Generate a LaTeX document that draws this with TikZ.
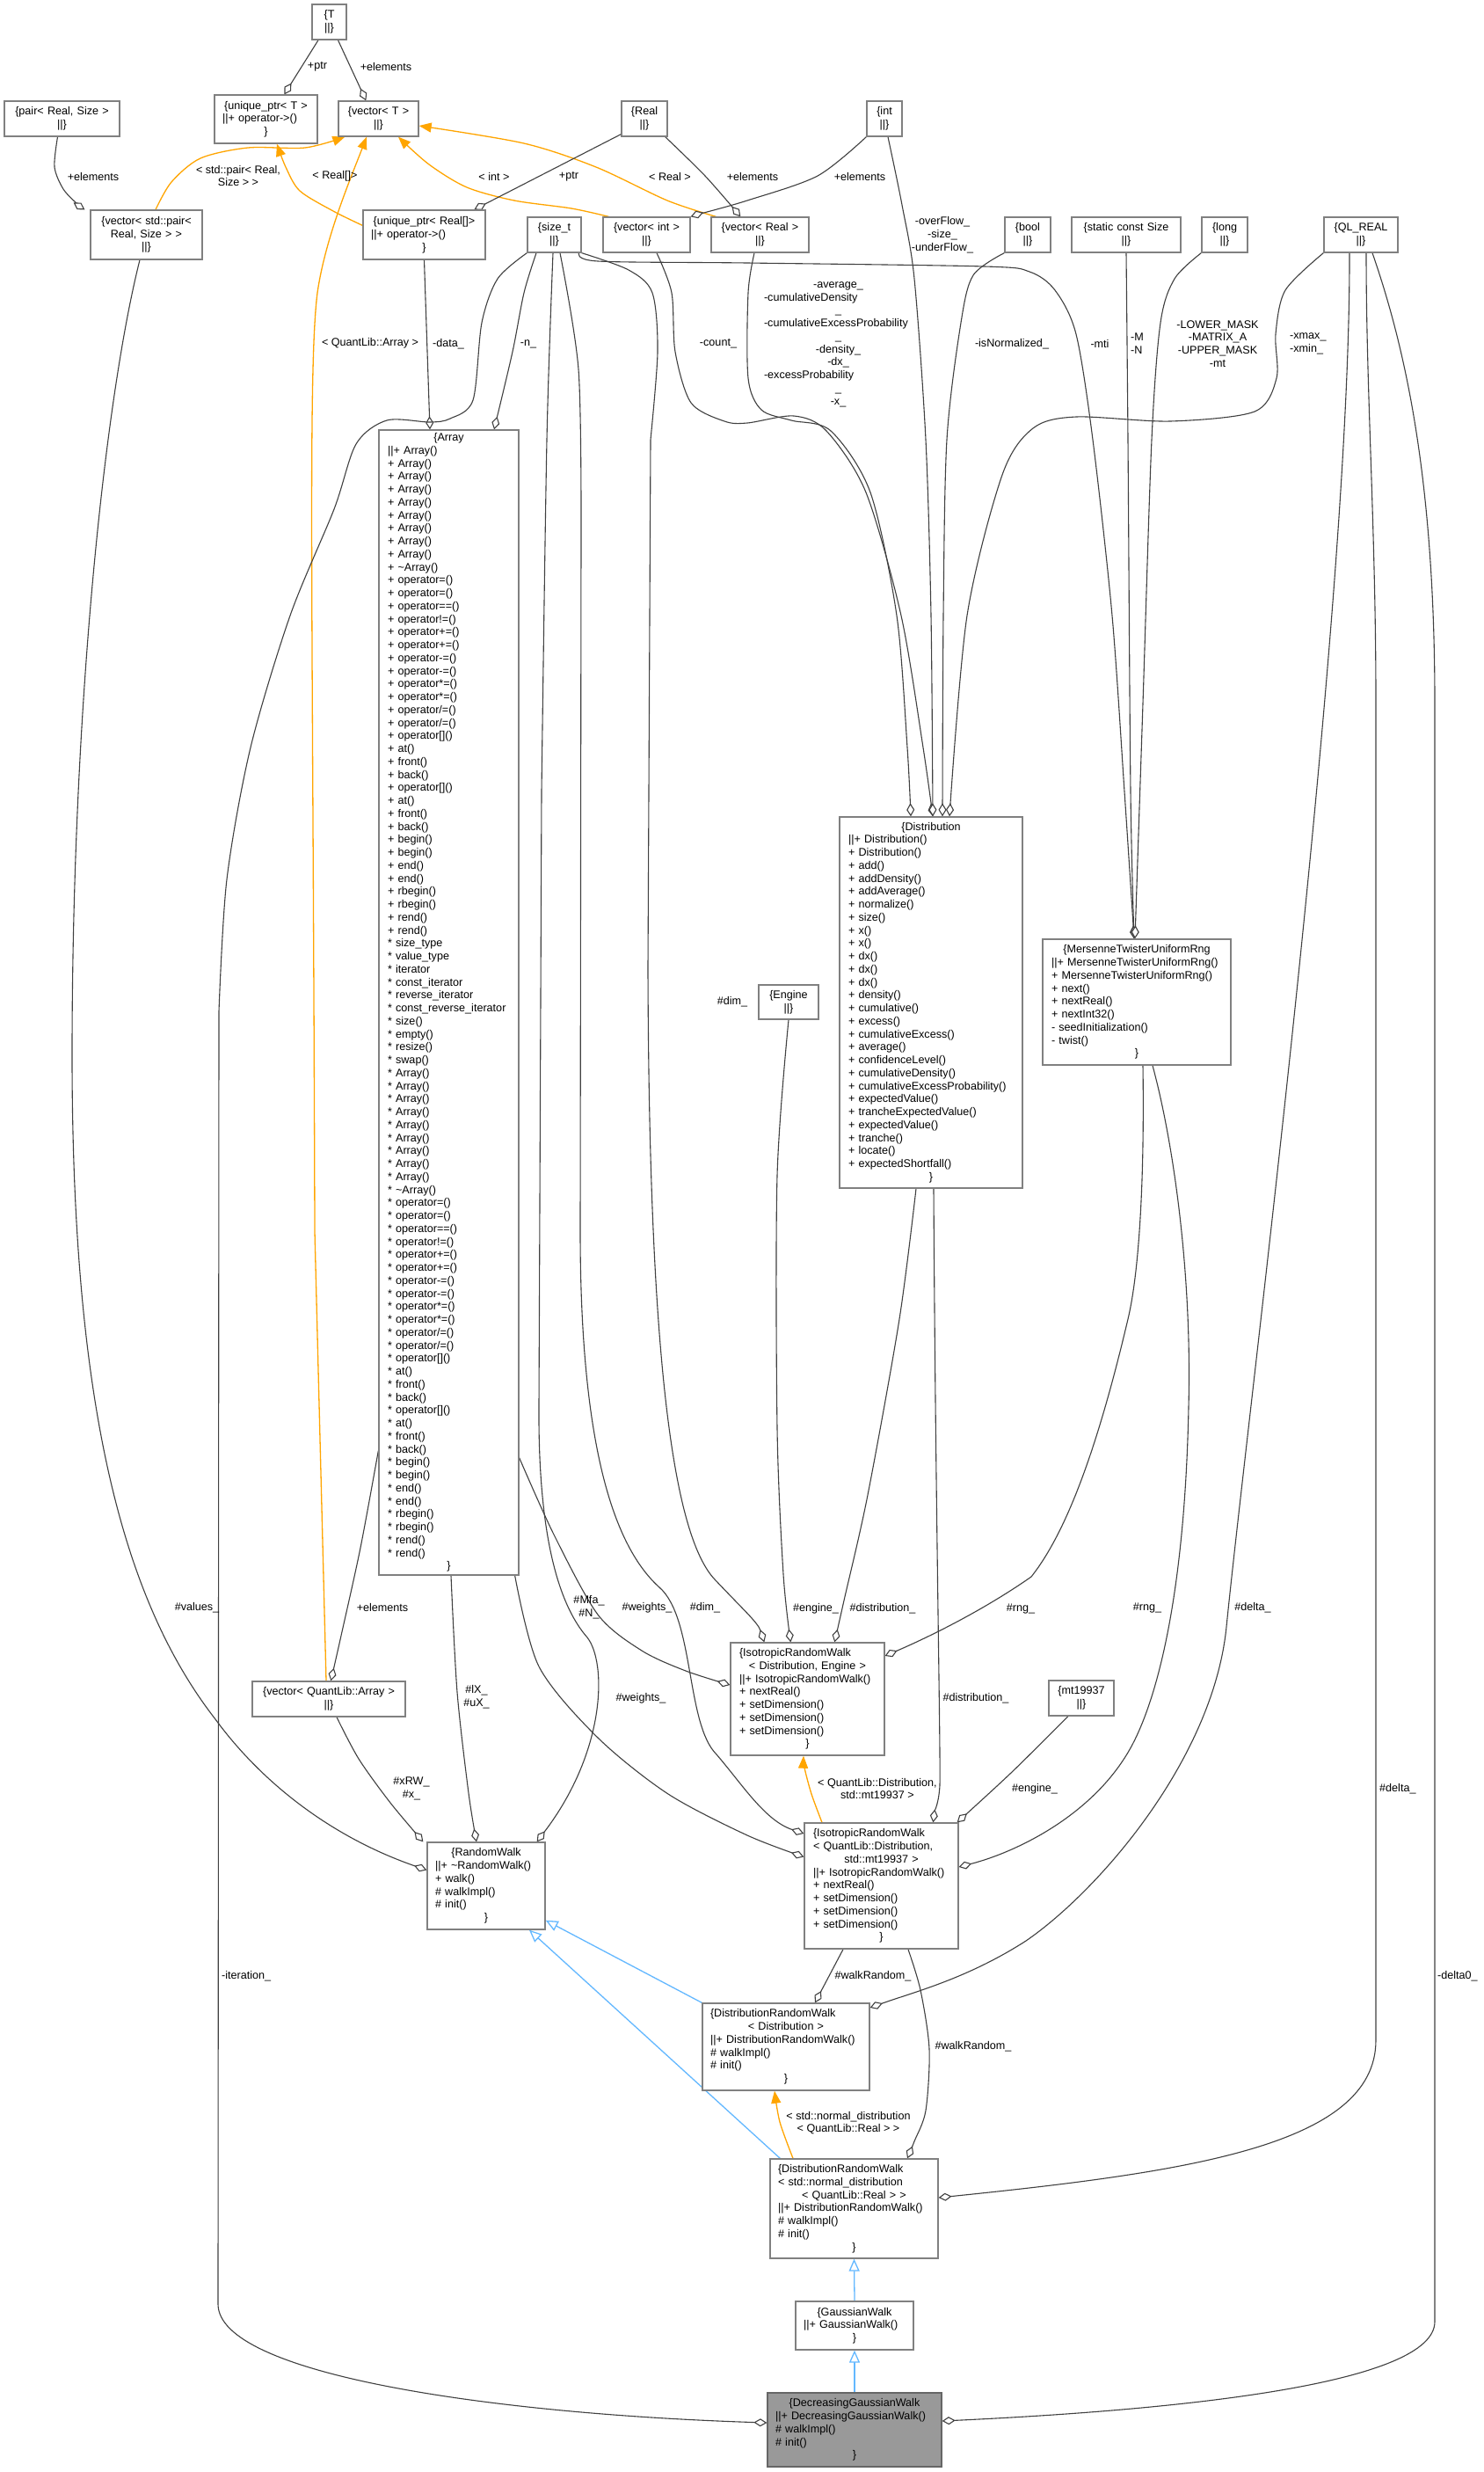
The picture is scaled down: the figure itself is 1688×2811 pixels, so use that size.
\documentclass[tikz,border=0pt]{standalone}
\usepackage{fontspec}
\setmainfont{Liberation Sans}
\usetikzlibrary{arrows.meta,backgrounds}
\definecolor{edgegray}{HTML}{404040}
\definecolor{boxgray}{HTML}{808080}
\definecolor{tmplorange}{HTML}{FFA500}
\definecolor{inhblue}{HTML}{63B8FF}
\definecolor{selgray}{HTML}{999999}
\newcommand\dfont{\fontsize{12.6}{14.75}\selectfont}
% one left-aligned / centred text line inside a class box
\newcommand\Ll[1]{\noindent\hbox to\hsize{#1\hss}\par}
\newcommand\Lc[1]{\noindent\hbox to\hsize{\hss#1\hss}\par}
\begin{document}
\begin{tikzpicture}[x=1pt,y=-1pt,
  cls/.style={draw=boxgray, line width=1.3pt, fill=white, inner sep=0pt, font=\dfont},
  lab/.style={inner sep=0pt, font=\dfont, align=center},
  labl/.style={inner sep=0pt, font=\dfont, align=left, anchor=west},
  comp/.style={draw=edgegray, line width=1.1pt, -{Diamond[fill=white,length=15pt,width=9pt,line width=1.1pt]}},
  tmpl/.style={draw=tmplorange, line width=1.3pt, -{Triangle[length=14pt,width=11pt,fill=tmplorange]}},
  inh/.style={draw=inhblue, line width=1.3pt, -{Triangle[open,fill=white,length=14pt,width=12pt]}}]
\useasboundingbox (0,0) rectangle (1688,2811);

% ---------- classes ----------
\node[cls, minimum width=39pt, minimum height=40pt, text width=37pt] (T) at (374.5,25) {%
\Lc{\{T}\Lc{||\}}};
\node[cls, minimum width=117pt, minimum height=55pt, text width=99pt] (uptrT) at (302.5,135.5) {%
\Lc{\{unique\_ptr< T >}\Ll{||+ operator->()}\Lc{\}}};
\node[cls, minimum width=91pt, minimum height=40pt, text width=85pt] (vecT) at (430.5,135) {%
\Lc{\{vector< T >}\Lc{||\}}};
\node[cls, minimum width=131pt, minimum height=40pt, text width=125pt] (pairRS) at (70.5,135) {%
\Lc{\{pair< Real, Size >}\Lc{||\}}};
\node[cls, minimum width=52pt, minimum height=40pt, text width=48pt] (Real) at (733,135) {%
\Lc{\{Real}\Lc{||\}}};
\node[cls, minimum width=40pt, minimum height=40pt, text width=36pt] (int) at (1006,135) {%
\Lc{\{int}\Lc{||\}}};
\node[cls, minimum width=127pt, minimum height=56pt, text width=121pt] (vecPair) at (166.5,267) {%
\Lc{\{vector< std::pair<}\Lc{Real, Size > >}\Lc{||\}}};
\node[cls, minimum width=139pt, minimum height=56pt, text width=121pt] (uptrR) at (482.5,267) {%
\Lc{\{unique\_ptr< Real[]>}\Ll{||+ operator->()}\Lc{\}}};
\node[cls, minimum width=61pt, minimum height=40pt, text width=57pt] (sizet) at (630.5,267) {%
\Lc{\{size\_t}\Lc{||\}}};
\node[cls, minimum width=99pt, minimum height=40pt, text width=93pt] (vecInt) at (735.5,267) {%
\Lc{\{vector< int >}\Lc{||\}}};
\node[cls, minimum width=111pt, minimum height=40pt, text width=105pt] (vecReal) at (864.5,267) {%
\Lc{\{vector< Real >}\Lc{||\}}};
\node[cls, minimum width=52pt, minimum height=40pt, text width=48pt] (bool) at (1169,267) {%
\Lc{\{bool}\Lc{||\}}};
\node[cls, minimum width=124pt, minimum height=40pt, text width=118pt] (scSize) at (1281,267) {%
\Lc{\{static const Size}\Lc{||\}}};
\node[cls, minimum width=52pt, minimum height=40pt, text width=48pt] (long) at (1393,267) {%
\Lc{\{long}\Lc{||\}}};
\node[cls, minimum width=84pt, minimum height=40pt, text width=78pt] (qlreal) at (1548,267) {%
\Lc{\{QL\_REAL}\Lc{||\}}};

\node[cls, minimum width=159pt, minimum height=1302pt, text width=139pt] (array) at (510.5,1140) {%
\Lc{\{Array}
\Ll{||+ Array()}
\Ll{+ Array()}\Ll{+ Array()}\Ll{+ Array()}\Ll{+ Array()}
\Ll{+ Array()}\Ll{+ Array()}\Ll{+ Array()}\Ll{+ Array()}
\Ll{+ \textasciitilde Array()}
\Ll{+ operator=()}\Ll{+ operator=()}\Ll{+ operator==()}\Ll{+ operator!=()}
\Ll{+ operator+=()}\Ll{+ operator+=()}\Ll{+ operator-=()}\Ll{+ operator-=()}
\Ll{+ operator*=()}\Ll{+ operator*=()}\Ll{+ operator/=()}\Ll{+ operator/=()}
\Ll{+ operator[]()}\Ll{+ at()}\Ll{+ front()}\Ll{+ back()}
\Ll{+ operator[]()}\Ll{+ at()}\Ll{+ front()}\Ll{+ back()}
\Ll{+ begin()}\Ll{+ begin()}\Ll{+ end()}\Ll{+ end()}
\Ll{+ rbegin()}\Ll{+ rbegin()}\Ll{+ rend()}\Ll{+ rend()}
\Ll{* size\_type}\Ll{* value\_type}\Ll{* iterator}\Ll{* const\_iterator}
\Ll{* reverse\_iterator}\Ll{* const\_reverse\_iterator}
\Ll{* size()}\Ll{* empty()}\Ll{* resize()}\Ll{* swap()}
\Ll{* Array()}\Ll{* Array()}\Ll{* Array()}\Ll{* Array()}\Ll{* Array()}
\Ll{* Array()}\Ll{* Array()}\Ll{* Array()}\Ll{* Array()}
\Ll{* \textasciitilde Array()}
\Ll{* operator=()}\Ll{* operator=()}\Ll{* operator==()}\Ll{* operator!=()}
\Ll{* operator+=()}\Ll{* operator+=()}\Ll{* operator-=()}\Ll{* operator-=()}
\Ll{* operator*=()}\Ll{* operator*=()}\Ll{* operator/=()}\Ll{* operator/=()}
\Ll{* operator[]()}\Ll{* at()}\Ll{* front()}\Ll{* back()}
\Ll{* operator[]()}\Ll{* at()}\Ll{* front()}\Ll{* back()}
\Ll{* begin()}\Ll{* begin()}\Ll{* end()}\Ll{* end()}
\Ll{* rbegin()}\Ll{* rbegin()}\Ll{* rend()}\Ll{* rend()}
\Lc{\}}};

\node[cls, minimum width=208pt, minimum height=422pt, text width=188pt] (distr) at (1059,1140) {%
\Lc{\{Distribution}
\Ll{||+ Distribution()}\Ll{+ Distribution()}\Ll{+ add()}\Ll{+ addDensity()}
\Ll{+ addAverage()}\Ll{+ normalize()}\Ll{+ size()}\Ll{+ x()}\Ll{+ x()}
\Ll{+ dx()}\Ll{+ dx()}\Ll{+ dx()}\Ll{+ density()}\Ll{+ cumulative()}
\Ll{+ excess()}\Ll{+ cumulativeExcess()}\Ll{+ average()}\Ll{+ confidenceLevel()}
\Ll{+ cumulativeDensity()}\Ll{+ cumulativeExcessProbability()}\Ll{+ expectedValue()}
\Ll{+ trancheExpectedValue()}\Ll{+ expectedValue()}\Ll{+ tranche()}\Ll{+ locate()}
\Ll{+ expectedShortfall()}
\Lc{\}}};

\node[cls, minimum width=214pt, minimum height=143pt, text width=194pt] (mersenne) at (1293,1139.5) {%
\Lc{\{MersenneTwisterUniformRng}
\Ll{||+ MersenneTwisterUniformRng()}\Ll{+ MersenneTwisterUniformRng()}
\Ll{+ next()}\Ll{+ nextReal()}\Ll{+ nextInt32()}
\Ll{- seedInitialization()}\Ll{- twist()}
\Lc{\}}};

\node[cls, minimum width=68pt, minimum height=39pt, text width=62pt] (engine) at (897,1139.5) {%
\Lc{\{Engine}\Lc{||\}}};

\node[cls, minimum width=175pt, minimum height=128pt, text width=155pt] (isoDE) at (918.5,1932) {%
\Ll{\{IsotropicRandomWalk}\Lc{< Distribution, Engine >}
\Ll{||+ IsotropicRandomWalk()}\Ll{+ nextReal()}
\Ll{+ setDimension()}\Ll{+ setDimension()}\Ll{+ setDimension()}
\Lc{\}}};

\node[cls, minimum width=175pt, minimum height=143pt, text width=155pt] (isoQL) at (1002.5,2144.5) {%
\Ll{\{IsotropicRandomWalk}\Ll{< QuantLib::Distribution,}\Lc{std::mt19937 >}
\Ll{||+ IsotropicRandomWalk()}\Ll{+ nextReal()}
\Ll{+ setDimension()}\Ll{+ setDimension()}\Ll{+ setDimension()}
\Lc{\}}};

\node[cls, minimum width=74pt, minimum height=40pt, text width=68pt] (mt) at (1230,1931) {%
\Lc{\{mt19937}\Lc{||\}}};
\node[cls, minimum width=174pt, minimum height=40pt, text width=160pt] (vecArr) at (374,1932) {%
\Lc{\{vector< QuantLib::Array >}\Lc{||\}}};

\node[cls, minimum width=134pt, minimum height=99pt, text width=116pt] (rw) at (553,2144.5) {%
\Lc{\{RandomWalk}\Ll{||+ \textasciitilde RandomWalk()}\Ll{+ walk()}
\Ll{\# walkImpl()}\Ll{\# init()}\Lc{\}}};

\node[cls, minimum width=190pt, minimum height=99pt, text width=172pt] (drwD) at (894,2327.5) {%
\Ll{\{DistributionRandomWalk}\Lc{< Distribution >}
\Ll{||+ DistributionRandomWalk()}\Ll{\# walkImpl()}\Ll{\# init()}\Lc{\}}};

\node[cls, minimum width=191pt, minimum height=113pt, text width=173pt] (drwN) at (971.5,2511.5) {%
\Ll{\{DistributionRandomWalk}\Ll{< std::normal\_distribution}\Lc{< QuantLib::Real > >}
\Ll{||+ DistributionRandomWalk()}\Ll{\# walkImpl()}\Ll{\# init()}\Lc{\}}};

\node[cls, minimum width=134pt, minimum height=55pt, text width=116pt] (gw) at (972,2644.5) {%
\Lc{\{GaussianWalk}\Ll{||+ GaussianWalk()}\Lc{\}}};

\node[cls, fill=selgray, draw=edgegray!80, minimum width=198pt, minimum height=84pt, text width=180pt] (dgw) at (972,2763) {%
\Lc{\{DecreasingGaussianWalk}\Ll{||+ DecreasingGaussianWalk()}
\Ll{\# walkImpl()}\Ll{\# init()}\Lc{\}}};

% ---------- edge labels ----------
\node[lab] (lptrA) at (361,76) {+ptr};
\node[lab] (lelA) at (439,76) {+elements};
\node[lab] (lelB) at (106,201) {+elements};
\node[lab] (lptrB) at (647,201) {+ptr};
\node[lab] (lelC) at (856,201) {+elements};
\node[lab] (lelD) at (978,201) {+elements};
\node[lab] (lpair) at (271,200) {< std::pair< Real,\\Size > >};
\node[lab] (lrealarr) at (381,200) {< Real[]>};
\node[lab] (lint) at (562,201) {< int >};
\node[lab] (lreal) at (762,201) {< Real >};
\node[lab] (lqlarr) at (421,390) {< QuantLib::Array >};
\node[lab] (ldata) at (510,391) {-data\_};
\node[lab] (ln) at (601,391) {-n\_};
\node[lab] (lcount) at (817,391) {-count\_};
\node[inner sep=0pt, font=\dfont, text width=169pt] (lvals) at (953.5,391.5) {%
\Lc{-average\_}\Ll{-cumulativeDensity}\Lc{\_}\Ll{-cumulativeExcessProbability}\Lc{\_}
\Lc{-density\_}\Lc{-dx\_}\Ll{-excessProbability}\Lc{\_}\Lc{-x\_}};
\node[lab] (lflow) at (1072,267) {-overFlow\_\\-size\_\\-underFlow\_};
\node[lab] (lnorm) at (1151,391) {-isNormalized\_};
\node[lab] (lmti) at (1251,391) {-mti};
\node[labl] (lmn) at (1286,391) {-M\\-N};
\node[lab] (lmask) at (1385,391) {-LOWER\_MASK\\-MATRIX\_A\\-UPPER\_MASK\\-mt};
\node[labl] (lxm) at (1467,391) {-xmax\_\\-xmin\_};
\node[lab] (ldimA) at (833,1139) {\#dim\_};
\node[lab] (lvalues) at (224,1828) {\#values\_};
\node[lab] (lelE) at (435,1828) {+elements};
\node[lab] (lmfa) at (670,1828) {\#Mfa\_\\\#N\_};
\node[lab] (lwA) at (736,1828) {\#weights\_};
\node[lab] (ldimB) at (802,1828) {\#dim\_};
\node[lab] (lengA) at (928,1829) {\#engine\_};
\node[lab] (ldistA) at (1004,1829) {\#distribution\_};
\node[lab] (lrngA) at (1161,1829) {\#rng\_};
\node[lab] (lrngB) at (1305,1828) {\#rng\_};
\node[lab] (ldeltaA) at (1425,1828) {\#delta\_};
\node[lab] (llx) at (542,1930) {\#lX\_\\\#uX\_};
\node[lab] (lwB) at (729,1931) {\#weights\_};
\node[lab] (ldistB) at (1110,1931) {\#distribution\_};
\node[lab] (lxrw) at (468,2034) {\#xRW\_\\\#x\_};
\node[lab] (lqld) at (998,2034) {< QuantLib::Distribution,\\std::mt19937 >};
\node[lab] (lengB) at (1177,2034) {\#engine\_};
\node[labl] (ldeltaB) at (1569,2034) {\#delta\_};
\node[labl] (liter) at (252,2247) {-iteration\_};
\node[lab] (lwalkA) at (993,2247) {\#walkRandom\_};
\node[labl] (ldelta0) at (1635,2247) {-delta0\_};
\node[lab] (lwalkB) at (1107,2327) {\#walkRandom\_};
\node[lab] (lnorm2) at (965,2414) {< std::normal\_distribution\\< QuantLib::Real > >};

% ---------- connectors ----------
\begin{scope}[on background layer]
\fill[white] (0,0) rectangle (1688,2811);

% template instantiations
\draw[tmpl] plot[smooth] coordinates {([xshift=10.5pt]vecPair.north) (195,207) (228,180) (282,168) (347,168) ([xshift=8pt]vecT.south west)};
\draw[tmpl] plot[smooth] coordinates {([yshift=-18pt]uptrR.north west) (379,240) (341,217) (325,190) ([xshift=12.5pt]uptrT.south)};
\draw[tmpl] ([xshift=-3pt]vecArr.north) -- (358,1400) .. controls (356,700) and (350,420) .. (361,333) .. controls (370,270) and (400,200) .. ([xshift=-13.5pt]vecT.south);
\draw[tmpl] plot[smooth] coordinates {([xshift=7pt]vecInt.north west) (650,237) (585,228) (531,213) (488,187) ([xshift=22.5pt]vecT.south)};
\draw[tmpl] plot[smooth] coordinates {([xshift=6pt]vecReal.north west) (759,228) (678,190) (596,163) ([yshift=-8pt]vecT.east)};
\draw[tmpl] plot[smooth] coordinates {([xshift=-67.5pt]isoQL.north) (923,2040) (915,2010) ([xshift=-4.5pt]isoDE.south)};
\draw[tmpl] plot[smooth] coordinates {([xshift=-69.5pt]drwN.north) (887,2413) ([xshift=-13pt]drwD.south)};

% inheritance
\draw[inh] (drwD.north west) -- ([yshift=11pt]rw.south east);
\draw[inh] ([xshift=12pt]drwN.north west) -- ([xshift=49pt]rw.south);
\draw[inh] (gw.north) -- (drwN.south);
\draw[inh] (dgw.north) -- (gw.south);

% members of the small templates
\draw[comp] ([xshift=-12.5pt]T.south) -- ([xshift=80pt]uptrT.north west);
\draw[comp] ([xshift=10pt]T.south) -- ([xshift=32pt]vecT.north west);
\draw[comp] plot[smooth] coordinates {([xshift=-5pt]pairRS.south) (62,190) (72,215) (88,232) ([xshift=-6pt]vecPair.north west)};
\draw[comp] ([yshift=3pt]Real.south west) -- ([xshift=127pt]uptrR.north west);
\draw[comp] plot[smooth] coordinates {([xshift=-3pt]Real.south east) (802,200) ([xshift=34pt]vecReal.north west)};
\draw[comp] plot[smooth] coordinates {(int.south west) (930,200) (850,228) (797,243) (vecInt.north east)};

% Array members
\draw[comp] (uptrR.south) -- ([xshift=-21.5pt]array.north);
\draw[comp] plot[smooth] coordinates {([xshift=-20.5pt]sizet.south) (596,333) (583,400) ([xshift=51.5pt]array.north)};

% size_t members elsewhere
\draw[comp] plot[smooth] coordinates {(sizet.south west) (566,317) (548,367) (538,455) (512,476) (489,480) (440,478) (405,505) (380,579) (330,700) (285,850) (258,1000) (249,1150)} -- (248,2620) .. controls (248,2700) and (560,2745) .. ([yshift=8pt]dgw.west);
\draw[comp] plot[smooth] coordinates {([xshift=-1.5pt]sizet.south) (622,500) (616,900)} -- (613,1600) .. controls (612,1760) and (640,1830) .. (668,1862) .. controls (690,1890) and (690,1990) .. ([xshift=-10pt]rw.north east);
\draw[comp] plot[smooth] coordinates {(sizet.south east) (715,307) (742,333) (748,400) (740,500)} -- (737,1100) .. controls (738,1500) and (760,1740) .. (813,1796) .. controls (845,1830) and (862,1845) .. ([xshift=39pt]isoDE.north west);
\draw[comp] plot[smooth] coordinates {([xshift=6.5pt]sizet.south) (658,420) (661,600)} -- (660,1400) .. controls (660,1650) and (700,1760) .. (750,1805) .. controls (790,1840) and (780,1960) .. (815,1995) .. controls (845,2030) and (870,2070) .. ([yshift=59.5pt]isoQL.west);
\draw[comp] plot[smooth] coordinates {([xshift=-3pt]sizet.south east) (680,297) (850,299) (1120,303) (1171,309) (1200,330) (1224,380) (1243,500) (1265,700) (1279,900) ([xshift=-3pt]mersenne.north)};

% Distribution members
\draw[comp] plot[smooth] coordinates {([xshift=11.5pt]vecInt.south) (764,333) (768,400) (786,458) (824,479) (850,481) (903,473) (940,490) (985,560) (1025,700) (1050,850) ([xshift=2pt]distr.north)};
\draw[comp] plot[smooth] coordinates {([xshift=-6.5pt]vecReal.south) (851,333) (851,430) (866,466) (900,478) (945,490) (990,560) (1020,700) (1032,850) ([xshift=-23pt]distr.north)};
\draw[comp] plot[smooth] coordinates {([xshift=4pt]int.south) (1026,233) (1040,317) (1053,500) (1059,700) ([xshift=2pt]distr.north)};
\draw[comp] plot[smooth] coordinates {(bool.south west) (1107,313) (1093,367) (1077,500) (1073,700) ([xshift=13pt]distr.north)};
\draw[comp] plot[smooth] coordinates {(qlreal.south west) (1462,330) (1451,380) (1452,430) (1427,468) (1331,479) (1224,474) (1175,487) (1140,540) (1100,700) ([xshift=21pt]distr.north)};

% Mersenne twister members
\draw[comp] plot[smooth] coordinates {(scSize.south) (1283,500) (1286,900) ([xshift=-3pt]mersenne.north)};
\draw[comp] plot[smooth] coordinates {(long.south west) (1336,317) (1320,367) (1310,500) (1300,800) ([xshift=-2pt]mersenne.north)};

% Array as a member
\draw[comp] plot[smooth] coordinates {([yshift=142pt]array.south west) (410,1760) (388,1860) ([xshift=90pt]vecArr.north west)};
\draw[comp] plot[smooth] coordinates {([xshift=2.5pt]array.south) (520,1924) (533,2039) ([xshift=-11pt]rw.north)};
\draw[comp] plot[smooth] coordinates {([yshift=134pt]array.south east) (630,1745) (680,1836) (730,1877) (780,1900) ([yshift=16pt]isoDE.west)};
\draw[comp] plot[smooth] coordinates {([xshift=-5pt]array.south east) (613,1895) (680,1976) (760,2040) (850,2087) ([yshift=33pt]isoQL.west)};

% isotropic random walk members
\draw[comp] plot[smooth] coordinates {(engine.south) (884,1337) (884,1624) (891,1790) ([xshift=69pt]isoDE.north west)};
\draw[comp] plot[smooth] coordinates {([xshift=-17pt]distr.south) (1023,1500) (987,1700) (960,1820) ([xshift=119pt]isoDE.north west)};
\draw[comp] ([xshift=3pt]distr.south) .. controls (1064,1700) and (1070,1990) .. (1069,2030) .. controls (1068,2050) and (1063,2060) .. ([xshift=147pt]isoQL.north west);
\draw[comp] ([xshift=7pt]mersenne.south) .. controls (1302,1350) and (1295,1450) .. (1283,1500) .. controls (1250,1640) and (1215,1740) .. (1173,1793) .. controls (1120,1830) and (1060,1860) .. ([yshift=49pt]isoDE.east);
\draw[comp] ([xshift=18pt]mersenne.south) .. controls (1335,1300) and (1356,1450) .. (1352,1600) .. controls (1348,1800) and (1320,1920) .. (1290,1980) .. controls (1250,2060) and (1160,2105) .. ([yshift=21.5pt]isoQL.east);
\draw[comp] plot[smooth] coordinates {([xshift=-15pt]mt.south) (1150,2016) ([xshift=-2pt]isoQL.north east)};

% QL_REAL members of the walks
\draw[comp] ([xshift=-13pt]qlreal.south) .. controls (1536,700) and (1420,1600) .. (1395,1850) .. controls (1380,2000) and (1250,2150) .. (1167,2207) .. controls (1100,2250) and (1040,2265) .. ([yshift=44.5pt]drwD.east);
\draw[comp] ([xshift=6pt]qlreal.south) .. controls (1554,450) and (1565,600) .. (1565,800) -- (1565,2320) .. controls (1565,2440) and (1350,2470) .. ([yshift=12.5pt]drwN.east);
\draw[comp] ([xshift=13pt]qlreal.south) .. controls (1600,400) and (1632,550) .. (1632,800) -- (1632,2640) .. controls (1632,2710) and (1350,2740) .. ([yshift=10pt]dgw.east);

% random walk members
\draw[comp] ([xshift=-43.5pt]isoQL.south) -- ([xshift=33pt]drwD.north);
\draw[comp] plot[smooth] coordinates {([xshift=30.5pt]isoQL.south) (1047,2263) (1057,2330) (1053,2400) (1040,2435) ([xshift=60.5pt]drwN.north)};
\draw[comp] plot[smooth] coordinates {([xshift=9pt]vecArr.south) (408,2000) (444,2050) ([xshift=-4pt]rw.north west)};
\draw[comp] ([xshift=-7.5pt]vecPair.south) .. controls (120,450) and (82,800) .. (82,1200) .. controls (82,1600) and (140,1820) .. (245,1955) .. controls (300,2030) and (380,2090) .. ([yshift=18pt]rw.west);
\end{scope}
\end{tikzpicture}
\end{document}
